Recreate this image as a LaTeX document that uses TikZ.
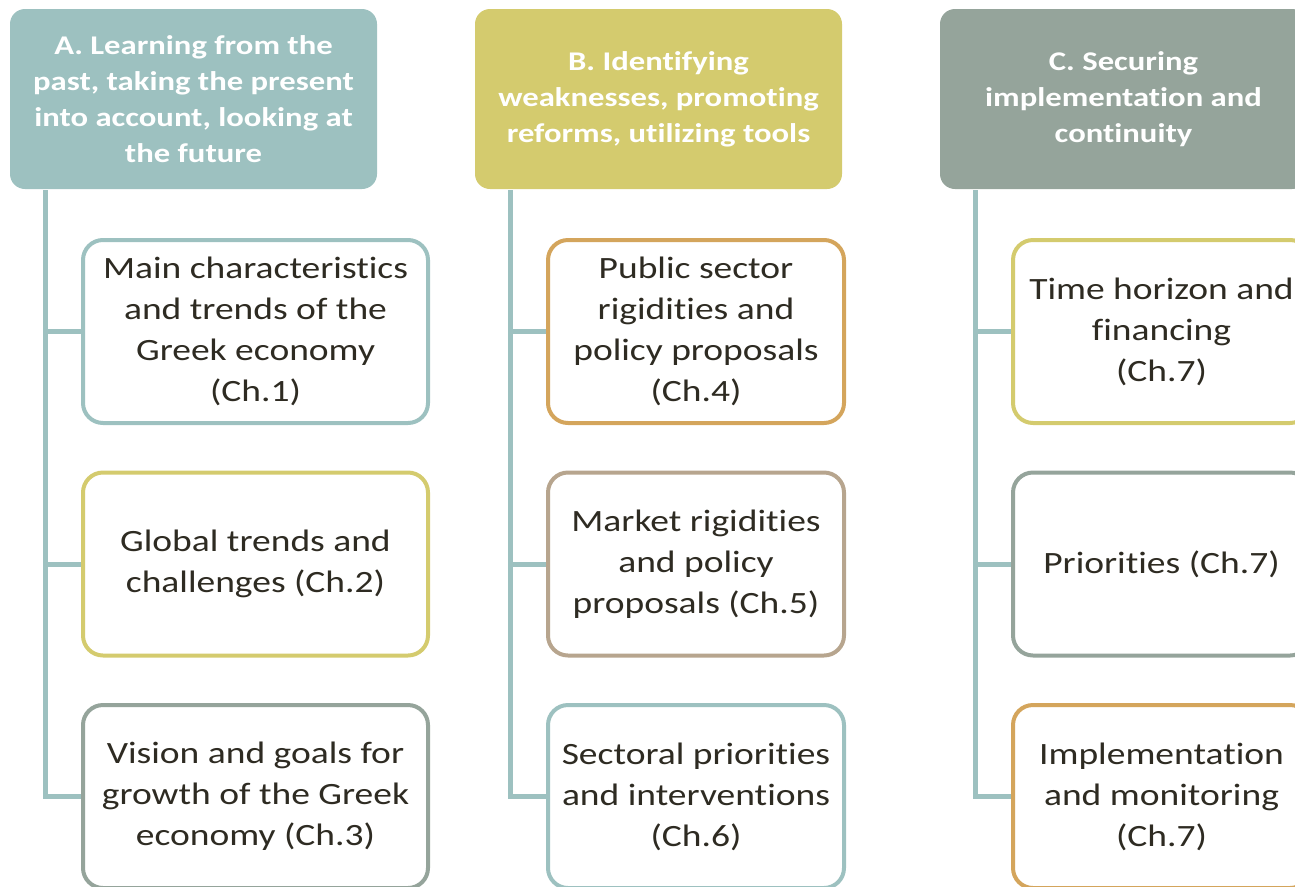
\documentclass[tikz,border=0pt]{standalone}
\usepackage{fontspec}
\setmainfont{Carlito}[FakeStretch=1.21, Ligatures=NoCommon]
\definecolor{teal}{HTML}{9DC1C0}
\definecolor{olive}{HTML}{D4CB6E}
\definecolor{sage}{HTML}{95A49B}
\definecolor{ochre}{HTML}{D4A55C}
\definecolor{tan}{HTML}{B7A58E}
\definecolor{ink}{HTML}{2E2B22}
\def\px{0.75pt}
\tikzset{
  header/.style={rectangle, rounded corners=15*\px, minimum width=367*\px,
    minimum height=180*\px, inner sep=0pt, align=center, text=white,
    font={\bfseries\fontsize{20.25pt}{27pt}\selectfont}},
  topic/.style={rectangle, rounded corners=20*\px, fill=white, line width=4*\px,
    minimum height=183*\px, inner sep=0pt, align=center, text=ink,
    font={\fontsize{23.25pt}{30.75pt}\selectfont}},
  colA/.style={topic, minimum width=345*\px},
  colB/.style={topic, minimum width=296*\px},
  colC/.style={topic, minimum width=297*\px},
  link/.style={draw=teal, line width=5*\px}
}
\begin{document}
\begin{tikzpicture}[x=\px, y=-\px]
\useasboundingbox (0,0) rectangle (1295,886);
\clip (0,0) rectangle (1295,886);

% column headers
\node[header, fill=teal] (hA) at (193.5,99) {A. Learning from the\\past, taking the present\\into account, looking at\\the future};
\node[header, fill=olive] (hB) at (658.5,99) {B. Identifying\\weaknesses, promoting\\reforms, utilizing tools};
\node[header, fill=sage] (hC) at (1123.5,99) {C. Securing\\implementation and\\continuity};

% trunk start points just below the headers
\coordinate (tA) at (45,190);
\coordinate (tB) at (510,190);
\coordinate (tC) at (975,190);

% topic boxes
\node[colA, draw=teal]  (a1) at (255.5,331.5) {Main characteristics\\and trends of the\\Greek economy\\(Ch.1)};
\node[colA, draw=olive] (a2) at (255.5,564) {Global trends and\\challenges (Ch.2)};
\node[colA, draw=sage]  (a3) at (255.5,796.5) {Vision and goals for\\growth of the Greek\\economy (Ch.3)};

\node[colB, draw=ochre] (b1) at (696,331.5) {Public sector\\rigidities and\\policy proposals\\(Ch.4)};
\node[colB, draw=tan]   (b2) at (696,564) {Market rigidities\\and policy\\proposals (Ch.5)};
\node[colB, draw=teal]  (b3) at (696,796.5) {Sectoral priorities\\and interventions\\(Ch.6)};

\node[colC, draw=olive] (c1) at (1161.5,331.5) {Time horizon and\\financing\\(Ch.7)};
\node[colC, draw=sage]  (c2) at (1161.5,564) {Priorities (Ch.7)};
\node[colC, draw=ochre] (c3) at (1161.5,796.5) {Implementation\\and monitoring\\(Ch.7)};

% connectors from each trunk to its boxes
\draw[link] (tA) |- (a3.west);
\draw[link] (tA |- a1.west) -- (a1.west);
\draw[link] (tA |- a2.west) -- (a2.west);
\draw[link] (tB) |- (b3.west);
\draw[link] (tB |- b1.west) -- (b1.west);
\draw[link] (tB |- b2.west) -- (b2.west);
\draw[link] (tC) |- (c3.west);
\draw[link] (tC |- c1.west) -- (c1.west);
\draw[link] (tC |- c2.west) -- (c2.west);
\end{tikzpicture}
\end{document}
